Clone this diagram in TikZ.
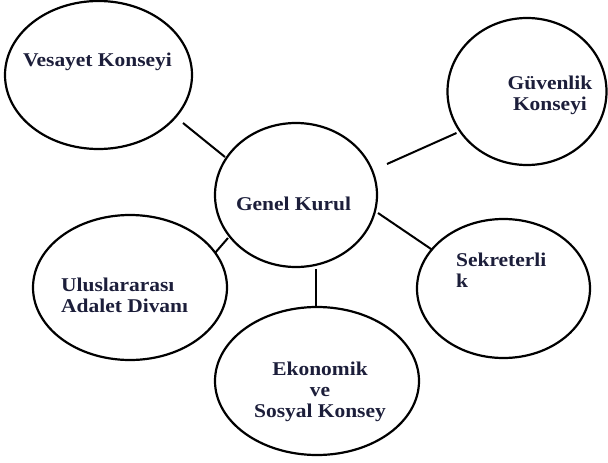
\documentclass[tikz,border=0pt]{standalone}
\usepackage{fontspec}
\setmainfont[FakeStretch=1.1]{Liberation Serif}
\usetikzlibrary{shapes.geometric,calc}
\definecolor{txt}{RGB}{28,30,58}
\begin{document}
\begin{tikzpicture}[x=1pt,y=-1pt,
  org/.style={draw=black,line width=2.2pt,ellipse,inner sep=0pt},
  lbl/.style={inner sep=0pt,text=txt,font=\fontsize{19.5}{21}\selectfont\bfseries},
  link/.style={draw=black,line width=2pt}]
\useasboundingbox (0,0) rectangle (608,463);
\node[org,minimum width=187pt,minimum height=148pt] (ves) at (98.5,75) {};
\node[org,minimum width=162pt,minimum height=144pt] (gen) at (296,195) {};
\node[org,minimum width=159pt,minimum height=147pt] (guv) at (527,91.5) {};
\node[org,minimum width=194pt,minimum height=145pt] (uid) at (130,287.5) {};
\node[org,minimum width=204pt,minimum height=148pt] (eko) at (317,381) {};
\node[org,minimum width=173pt,minimum height=139pt] (sek) at (503.5,288.5) {};

\node[lbl,anchor=base] (tves) at (97.5,66) {Vesayet Konseyi};
\node[lbl,anchor=base] (tgen) at (293.5,210) {Genel Kurul};
\node[lbl,anchor=base,align=center] (tguv) at (550,110) {Güvenlik\\Konseyi};
\node[lbl,anchor=base west,align=left] (tuid) at (61,312) {Uluslararası\\Adalet Divanı};
\node[lbl,anchor=base,align=center] (teko) at (320,417) {Ekonomik\\ve\\Sosyal Konsey};
\node[lbl,anchor=base west,align=left] (tsek) at (456,287) {Sekreterli\\k};

\draw[link] ($(ves)+(84.5,48)$) -- ($(gen)+(-71,-38)$);
\draw[link] ($(gen)+(91,-31)$) -- ($(guv)+(-70.5,41.5)$);
\draw[link] ($(gen)+(82,18)$) -- ($(sek)+(-71,-38.5)$);
\draw[link] ($(gen)+(20,74)$) -- ($(eko)+(-1,-74)$);
\draw[link] ($(uid)+(85,-34.5)$) -- ($(gen)+(-68,43)$);
\end{tikzpicture}
\end{document}
